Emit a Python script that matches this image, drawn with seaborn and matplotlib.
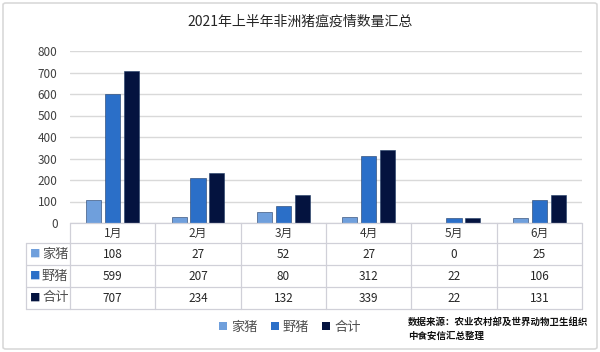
import pandas as pd
import matplotlib.pyplot as plt
import matplotlib.transforms as mtransforms
from matplotlib.patches import Patch, FancyBboxPatch
import seaborn as sns

sns.set_theme(style="white")
plt.rcParams['font.family'] = ['Noto Sans CJK SC', 'DejaVu Sans']

# Data
months = ["1月", "2月", "3月", "4月", "5月", "6月"]
series = ["家猪", "野猪", "合计"]
domestic = [108, 27, 52, 27, 0, 25]
wild = [599, 207, 80, 312, 22, 106]
total = [707, 234, 132, 339, 22, 131]
colors = ["#6f9fdc", "#2b6fc8", "#04133f"]

df = pd.DataFrame({
    "月份": months * 3,
    "类型": [s for s in series for _ in months],
    "数量": domestic + wild + total,
})

W, H = 600, 352
fig = plt.figure(figsize=(6, 3.52), dpi=100)

def fy(px):
    return 1 - px / H

# card border
fig.patches.append(FancyBboxPatch((3 / W, 3 / H), 594 / W, 346 / H,
                                  boxstyle="round,pad=0,rounding_size=0.005",
                                  transform=fig.transFigure, fc="none",
                                  ec="#d9d9d9", lw=1.2, zorder=0))

ax = fig.add_axes([70 / W, fy(223), 512 / W, 172 / H])
ax.set_facecolor("none")
sns.barplot(data=df, x="月份", y="数量", hue="类型", palette=colors,
            width=0.66, gap=0.2, ax=ax, legend=False, saturation=1,
            edgecolor="#1f3b66", linewidth=0.4)

ax.set_xlim(-0.5, len(months) - 0.5)
ax.set_ylim(0, 800)
ax.set_yticks(range(0, 801, 100))
ax.yaxis.grid(True, color="#d9d9d9", lw=1)
ax.set_axisbelow(True)
for s in ax.spines.values():
    s.set_visible(False)
ax.set_xticks([])
ax.set_xlabel("")
ax.set_ylabel("")
ax.tick_params(axis="y", length=0, pad=9, labelsize=8.5, labelcolor="#404040")

fig.text(0.5, fy(22), "2021年上半年非洲猪瘟疫情数量汇总", ha="center", va="center",
         fontsize=10, fontweight="medium", color="#262626")

# data table under the axis
tr = mtransforms.blended_transform_factory(ax.transData, fig.transFigure)
rows = [243, 265, 287, 309]
line_c = "#d0d0d8"
x_left = -0.5 - 44 / (512 / 6)
# horizontal lines
ax.plot([-0.5, 5.5], [fy(223)] * 2, transform=tr, color=line_c, lw=0.9, clip_on=False)
for r in rows:
    ax.plot([x_left, 5.5], [fy(r)] * 2, transform=tr, color=line_c, lw=0.9, clip_on=False)
# vertical lines
for i in range(len(months) + 1):
    ax.plot([i - 0.5] * 2, [fy(223), fy(309)], transform=tr, color=line_c, lw=0.9, clip_on=False)
ax.plot([x_left] * 2, [fy(243), fy(309)], transform=tr, color=line_c, lw=0.9, clip_on=False)

for i, m in enumerate(months):
    ax.text(i, fy(233.5), m, transform=tr, ha="center", va="center", fontsize=8.5, color="#333333")
values = [domestic, wild, total]
for j, name in enumerate(series):
    yc = fy((rows[j] + rows[j + 1]) / 2)
    for i in range(len(months)):
        ax.text(i, yc, str(values[j][i]), transform=tr, ha="center", va="center",
                fontsize=8.5, color="#262626")
    fig.text(35 / W, yc, "■", color=colors[j], ha="center", va="center", fontsize=7.5)
    fig.text(42 / W, yc, name, color="#505050", ha="left", va="center", fontsize=9.5)

handles = [Patch(facecolor=c, edgecolor="none", label=s) for c, s in zip(colors, series)]
fig.legend(handles=handles, loc="center", bbox_to_anchor=(290 / W, fy(327)), ncol=3,
           frameon=False, fontsize=9.5, handlelength=0.6, handleheight=0.6,
           handletextpad=0.3, columnspacing=1.0, labelcolor="#505050")

fig.text(408 / W, fy(322), "数据来源：农业农村部及世界动物卫生组织", ha="left", va="center",
         fontsize=6.8, fontweight="bold", color="#111111")
fig.text(408 / W, fy(336), "中食安信汇总整理", ha="left", va="center",
         fontsize=6.8, fontweight="bold", color="#111111")

fig.savefig("out.png", dpi=100)
